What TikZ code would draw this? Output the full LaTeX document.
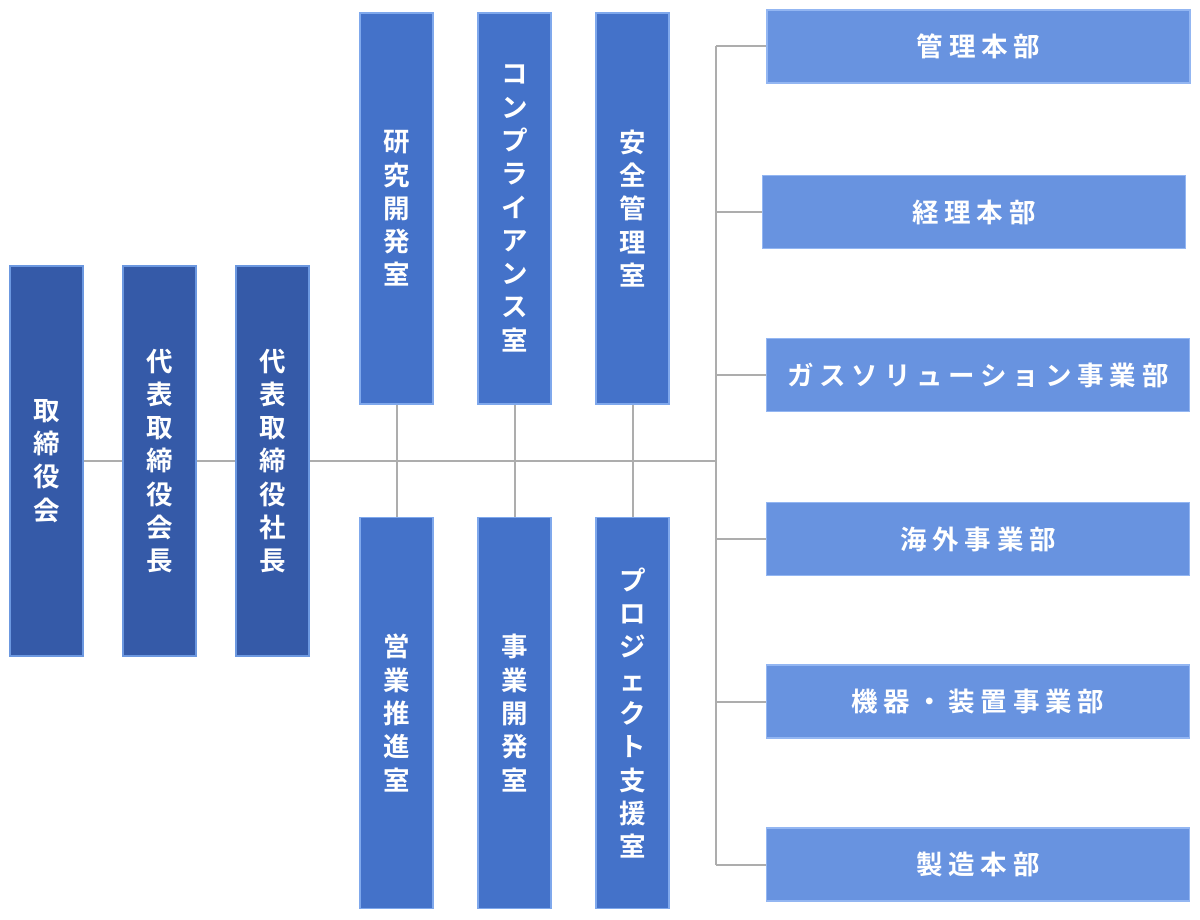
\documentclass[tikz,border=0pt]{standalone}
\usepackage{fontspec}
\usepackage{tikz}
\usetikzlibrary{positioning,calc}
\newfontfamily\jpfont{Noto Sans CJK JP Bold}
\newfontfamily\jpwide{Noto Sans CJK JP Bold}[LetterSpace=22]
\definecolor{topblue}{HTML}{355AA8}
\definecolor{topedge}{HTML}{6C98E0}
\definecolor{midblue}{HTML}{4472C9}
\definecolor{midedge}{HTML}{7FA8EC}
\definecolor{deptblue}{HTML}{6893E0}
\definecolor{deptedge}{HTML}{93B6F2}
\definecolor{linegray}{HTML}{ADADAD}

\begin{document}
\begin{tikzpicture}[
            x=1pt, y=-1pt,
            tatebox/.style={draw, rectangle, line width=1.5pt, inner sep=0pt, text=white, align=center,
                font=\jpfont\fontsize{26.5}{33.3}\selectfont},
            execbox/.style={tatebox, fill=topblue, draw=topedge, minimum width=73pt, minimum height=390pt},
            staffbox/.style={tatebox, fill=midblue, draw=midedge, minimum width=73pt, minimum height=391pt},
            deptbox/.style={draw=deptedge, fill=deptblue, line width=1.5pt, rectangle, inner sep=0pt, text=white,
                minimum width=423pt, minimum height=73pt, font=\jpwide\fontsize{26.5}{30}\selectfont},
            conn/.style={draw=linegray, line width=2pt}
        ]
            \useasboundingbox (0,0) rectangle (1200,920);

            % executives
            \node[execbox] (kai) at (46.5,461) {取\\締\\役\\会};
            \node[execbox] (kaicho) at (159.5,461) {代\\表\\取\\締\\役\\会\\長};
            \node[execbox] (shacho) at (272.5,461) {代\\表\\取\\締\\役\\社\\長};

            % staff offices
            \node[staffbox] (kenkyu) at (396.5,208.5) {研\\究\\開\\発\\室};
            \node[staffbox] (compla) at (514.5,208.5) {コ\\ン\\プ\\ラ\\イ\\ア\\ン\\ス\\室};
            \node[staffbox] (anzen) at (632.5,208.5) {安\\全\\管\\理\\室};
            \node[staffbox] (eigyo) at (396.5,713) {営\\業\\推\\進\\室};
            \node[staffbox] (jigyo) at (514.5,713) {事\\業\\開\\発\\室};
            \node[staffbox] (project) at (632.5,713) {プ\\ロ\\ジ\\ェ\\ク\\ト\\支\\援\\室};

            % divisions
            \node[deptbox] (kanri) at (978.5,46.5) {管理本部};
            \node[deptbox] (keiri) at (974,212) {経理本部};
            \node[deptbox] (gas) at (978,375) {ガスソリューション事業部};
            \node[deptbox] (kaigai) at (978,539) {海外事業部};
            \node[deptbox] (kiki) at (978,701.5) {機器・装置事業部};
            \node[deptbox] (seizo) at (978,864.5) {製造本部};

            \coordinate (bus) at (716,461);

            \begin{scope}[on background layer/.try]
            \draw[conn] (kai) -- (kaicho);
            \draw[conn] (kaicho) -- (shacho);
            \draw[conn] (shacho.east) -- (bus);
            \draw[conn] (kenkyu) -- (eigyo);
            \draw[conn] (compla) -- (jigyo);
            \draw[conn] (anzen) -- (project);
            \draw[conn] (bus |- kanri.west) -- (bus |- seizo.west);
            \foreach \d in {kanri,keiri,gas,kaigai,kiki,seizo}
                \draw[conn] (bus |- \d.west) -- (\d.west);
            \end{scope}
        \end{tikzpicture}
\end{document}
